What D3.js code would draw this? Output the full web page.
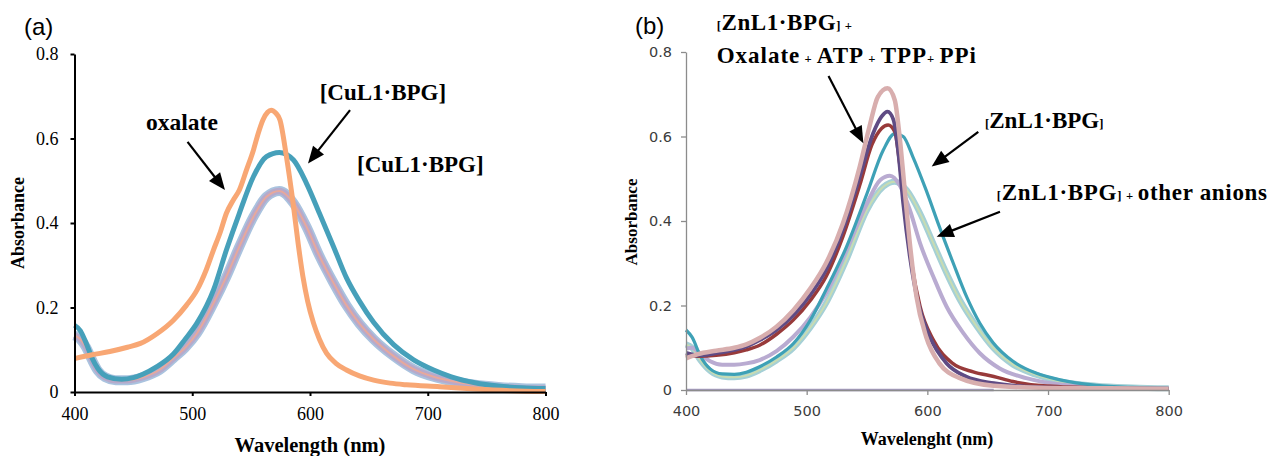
<!DOCTYPE html>
<html>
<head>
<meta charset="utf-8">
<script src="https://cdn.jsdelivr.net/npm/d3@7"></script>
<style>
  body { margin: 0; background: #fff; }
  svg { display: block; }
</style>
</head>
<body>
<div class="spectra__container"></div>
<script>
// data: [wavelength (nm), absorbance]

// panel (a) CuL1·BPG
const oxalateA = [[400,0.079],[415,0.088],[430,0.096],[445,0.106],[456,0.115],[470,0.138],[484,0.17],[495,0.205],[504,0.241],[512,0.29],[518,0.336],[524,0.38],[529,0.423],[535,0.455],[540,0.478],[546,0.525],[552,0.573],[556,0.612],[560,0.644],[564,0.662],[567,0.667],[571,0.66],[574.5,0.644],[580,0.557],[586,0.439],[590,0.35],[594,0.273],[598,0.215],[603,0.163],[608,0.125],[614,0.092],[622,0.068],[631,0.052],[642,0.038],[654,0.028],[668,0.021],[682,0.017],[710,0.0125],[740,0.007],[770,0.003],[800,0.001]];
const cuBpgA = [[400,0.158],[405,0.145],[410,0.115],[415,0.08],[420,0.055],[428,0.036],[440,0.03],[450,0.034],[458,0.042],[470,0.06],[484,0.09],[494,0.125],[504,0.163],[518,0.241],[529,0.336],[540,0.423],[552,0.51],[563,0.557],[574,0.567],[586,0.549],[597,0.494],[608,0.423],[620,0.344],[631,0.27],[642,0.215],[654,0.165],[671,0.112],[688,0.076],[705,0.052],[720,0.036],[740,0.022],[760,0.014],[780,0.01],[800,0.008]];
const cuOthersA = [[400,0.134],[405,0.125],[410,0.105],[415,0.075],[420,0.05],[426,0.035],[435,0.028],[445,0.028],[458,0.035],[472,0.052],[484,0.08],[494,0.105],[504,0.139],[518,0.21],[529,0.273],[540,0.344],[552,0.415],[563,0.462],[574,0.476],[586,0.447],[597,0.391],[608,0.322],[620,0.258],[631,0.205],[642,0.162],[654,0.125],[671,0.085],[688,0.054],[705,0.036],[720,0.026],[740,0.017],[760,0.012],[780,0.009],[800,0.008]];

// panel (b) ZnL1·BPG
const znPpiB = [[400,0.075],[410,0.085],[425,0.093],[440,0.1],[450,0.108],[461,0.123],[475,0.15],[489,0.189],[503,0.24],[516,0.3],[530,0.394],[544,0.529],[552,0.623],[559,0.694],[567,0.714],[573,0.686],[577,0.6],[581,0.481],[585.5,0.347],[591,0.221],[599,0.126],[610,0.063],[627,0.028],[655,0.01],[700,0.005],[750,0.004],[800,0.003]];
const znAtpB = [[400,0.088],[410,0.082],[425,0.087],[440,0.095],[450,0.103],[461,0.118],[475,0.142],[489,0.177],[503,0.225],[516,0.284],[530,0.379],[544,0.505],[555,0.607],[562,0.647],[567,0.659],[572,0.639],[576,0.56],[580,0.442],[585.5,0.316],[592.5,0.205],[602,0.126],[616,0.063],[632,0.032],[655,0.016],[682,0.008],[720,0.005],[800,0.003]];
const znOxalateB = [[400,0.085],[410,0.08],[425,0.082],[440,0.088],[450,0.095],[461,0.106],[475,0.132],[489,0.166],[503,0.212],[516,0.268],[530,0.363],[544,0.485],[554,0.58],[562,0.619],[567.5,0.627],[573,0.611],[577,0.537],[581.5,0.426],[587,0.3],[594,0.197],[605,0.118],[621,0.063],[638,0.043],[655,0.032],[671,0.02],[696,0.01],[740,0.005],[800,0.003]];
const znBpgB = [[400,0.142],[405,0.125],[412,0.08],[420,0.05],[430,0.038],[440,0.037],[450,0.042],[461,0.055],[475,0.078],[489,0.11],[503,0.165],[516,0.237],[533,0.339],[550,0.465],[563.5,0.568],[573,0.607],[580,0.6],[588,0.552],[599,0.473],[610,0.386],[621.5,0.3],[632.5,0.221],[643.5,0.158],[654.5,0.112],[671,0.068],[690,0.04],[710,0.024],[740,0.011],[770,0.006],[800,0.004]];
const znPhosphateB = [[400,0.098],[405,0.1],[412,0.085],[420,0.068],[430,0.06],[440,0.06],[450,0.063],[461,0.071],[475,0.092],[489,0.126],[503,0.172],[516,0.229],[533,0.331],[550,0.442],[561,0.497],[569,0.507],[577,0.485],[585.5,0.426],[594,0.347],[605,0.268],[616,0.197],[630,0.134],[643.5,0.087],[660,0.051],[682,0.028],[710,0.013],[750,0.006],[800,0.003]];
const znOthersB = [[400,0.108],[405,0.1],[412,0.07],[420,0.045],[430,0.032],[440,0.03],[450,0.034],[461,0.047],[475,0.07],[489,0.1],[503,0.148],[516,0.205],[533,0.308],[550,0.426],[563.5,0.481],[573,0.493],[583,0.473],[594,0.418],[605,0.347],[616,0.276],[627,0.213],[641,0.15],[654.5,0.1],[671,0.06],[690,0.036],[710,0.02],[740,0.01],[770,0.006],[800,0.004]];
const blankB = [[400,0],[655,0]];

// axes ticks
const ticksX = [400, 500, 600, 700, 800];
const ticksY = [0, 0.2, 0.4, 0.6, 0.8];

const width = 1269;
const height = 456;

const svg = d3.select('.spectra__container')
    .append('svg')
    .attr('width', width)
    .attr('height', height);

const formatY = d => (d === 0 ? '0' : d3.format('.1f')(d));

//panel with scales and axes
const drawPanel = (p) => {
    const x = d3.scaleLinear().domain([400, 800]).range([p.left, p.right]);
    const y = d3.scaleLinear().domain([0, 0.8]).range([p.bottom, p.top]);

    const xAxis = d3.axisBottom(x).tickValues(ticksX).tickSizeInner(p.tick).tickSizeOuter(0).tickPadding(p.padX);
    const yAxis = d3.axisLeft(y).tickValues(ticksY).tickFormat(formatY).tickSizeInner(p.tick).tickSizeOuter(0).tickPadding(p.padY);

    const g = svg.append('g').attr('class', p.name);
    const lines = g.append('g').attr('class', 'lines');

    const styleAxis = sel => {
        sel.attr('font-family', p.tickFont).attr('font-size', p.tickSize);
        sel.select('.domain').attr('stroke', p.axisColor).attr('stroke-width', p.axisWidth);
        sel.selectAll('.tick line').attr('stroke', p.axisColor).attr('stroke-width', p.axisWidth);
        sel.selectAll('.tick text')
            .attr('fill', p.labelColor)
            .style('font-family', p.tickFont)
            .style('font-size', p.tickSize + 'px');
    };

    g.append('g').attr('transform', `translate(0,${p.bottom})`).call(xAxis).call(styleAxis);
    g.append('g').attr('transform', `translate(${p.left},0)`).call(yAxis).call(styleAxis);

    return { x, y, g, lines };
};

const drawLine = (panel, data, color, w) => {
    const line = d3.line()
        .x(d => panel.x(d[0]))
        .y(d => panel.y(d[1]))
        .curve(d3.curveMonotoneX);
    panel.lines.append('path')
        .datum(data)
        .attr('d', line)
        .attr('fill', 'none')
        .attr('stroke', color)
        .attr('stroke-width', w)
        .attr('stroke-linejoin', 'round');
};

// arrow from data point to data point
const drawArrow = (panel, from, to) => {
    const x1 = panel.x(from[0]), y1 = panel.y(from[1]);
    const x2 = panel.x(to[0]), y2 = panel.y(to[1]);
    const len = Math.hypot(x2 - x1, y2 - y1);
    const ux = (x2 - x1) / len, uy = (y2 - y1) / len;
    const head = 17, half = 7;
    const bx = x2 - ux * head, by = y2 - uy * head;
    panel.g.append('line')
        .attr('x1', x1).attr('y1', y1)
        .attr('x2', bx + ux * 2).attr('y2', by + uy * 2)
        .attr('stroke', '#000').attr('stroke-width', 2.2);
    panel.g.append('path')
        .attr('d', `M${x2},${y2}L${bx - uy * half},${by + ux * half}L${bx + uy * half},${by - ux * half}Z`)
        .attr('fill', '#000');
};

const serif = '"Liberation Serif", "Times New Roman", serif';

// annotation text with small brackets / plus signs
const drawNote = (panel, at, parts, size, spacing = 0) => {
    const t = panel.g.append('text')
        .attr('x', panel.x(at[0]))
        .attr('y', panel.y(at[1]))
        .style('font-family', serif)
        .style('font-weight', 'bold')
        .style('font-size', size + 'px')
        .style('letter-spacing', spacing + 'px')
        .attr('fill', '#000');
    parts.forEach(s => {
        t.append('tspan')
            .style('font-size', s.small ? (size * 0.55) + 'px' : null)
            .text(s.text);
    });
};

//panel a
const panelA = drawPanel({
    name: 'panel-a', left: 74.5, right: 545.5, top: 54, bottom: 392,
    tick: 4, padX: 11, padY: 12, axisColor: '#000', axisWidth: 2, labelColor: '#000',
    tickFont: serif, tickSize: 18
});

drawLine(panelA, cuOthersA, '#aac3df', 10);
drawLine(panelA, cuOthersA, '#b6aacb', 6.5);
drawLine(panelA, cuOthersA, '#e6a89d', 2);
drawLine(panelA, cuBpgA, '#46a0ba', 5);
drawLine(panelA, oxalateA, '#f8a774', 5);

drawArrow(panelA, [496, 0.592], [527.8, 0.478]);
drawArrow(panelA, [634, 0.667], [598.3, 0.541]);
drawNote(panelA, [460.8, 0.62], [{ text: 'oxalate' }], 23.5);
drawNote(panelA, [608.2, 0.691], [{ text: '[CuL1·BPG]' }], 23);
drawNote(panelA, [640, 0.521], [{ text: '[CuL1·BPG]' }], 23);

//panel b
const panelB = drawPanel({
    name: 'panel-b', left: 686, right: 1168.7, top: 52, bottom: 390,
    tick: 5, padX: 11, padY: 9, axisColor: '#8c8c8c', axisWidth: 1.3, labelColor: '#3c3c3c',
    tickFont: '"DejaVu Sans", Verdana, sans-serif', tickSize: 14.5
});

drawLine(panelB, blankB, '#a69cc2', 2.5);
drawLine(panelB, znOthersB, '#a5d0d6', 6);
drawLine(panelB, znOthersB, '#c7dcb2', 2);
drawLine(panelB, znPhosphateB, '#b9abd1', 4);
drawLine(panelB, znBpgB, '#3ea1b6', 3.2);
drawLine(panelB, znOxalateB, '#983a3a', 3.5);
drawLine(panelB, znAtpB, '#5f4b84', 3.8);
drawLine(panelB, znPpiB, '#d8aeae', 4.5);

drawArrow(panelB, [518.1, 0.743], [547.0, 0.584]);
drawArrow(panelB, [642.2, 0.611], [603.6, 0.529]);
drawArrow(panelB, [660.2, 0.422], [607.7, 0.363]);

drawNote(panelB, [425.4, 0.852], [{ text: '[', small: true }, { text: 'ZnL1·BPG' }, { text: '] +', small: true }], 23, 0.6);
drawNote(panelB, [425.4, 0.775], [
    { text: 'Oxalate' }, { text: ' + ', small: true }, { text: 'ATP' }, { text: ' + ', small: true },
    { text: 'TPP' }, { text: '+ ', small: true }, { text: 'PPi' }
], 23, 1);
drawNote(panelB, [647.8, 0.619], [{ text: '[', small: true }, { text: 'ZnL1·BPG' }, { text: ']', small: true }], 23);
drawNote(panelB, [657.5, 0.45], [{ text: '[', small: true }, { text: 'ZnL1·BPG' }, { text: '] + ', small: true }, { text: 'other anions' }], 23, 0.7);

// panel letters and axis titles
const addText = (txt, x, y, font, size, weight, rotate) => {
    svg.append('text')
        .attr('transform', `translate(${x},${y})` + (rotate ? ' rotate(-90)' : ''))
        .attr('text-anchor', rotate !== undefined ? 'middle' : 'start')
        .style('font-family', font)
        .style('font-size', size + 'px')
        .style('font-weight', weight)
        .text(txt);
};
const sans = '"Liberation Sans", Arial, sans-serif';
addText('(a)', 24, 35, sans, 24, 'normal');
addText('(b)', 635, 34, sans, 24, 'normal');
addText('Absorbance', 24, 223, serif, 18, 'bold', true);
addText('Wavelength (nm)', 310, 452, serif, 20.5, 'bold', false);
addText('Absorbance', 637, 222, serif, 17, 'bold', true);
addText('Wavelenght (nm)', 927, 445, serif, 18, 'bold', false);
</script>
</body>
</html>
